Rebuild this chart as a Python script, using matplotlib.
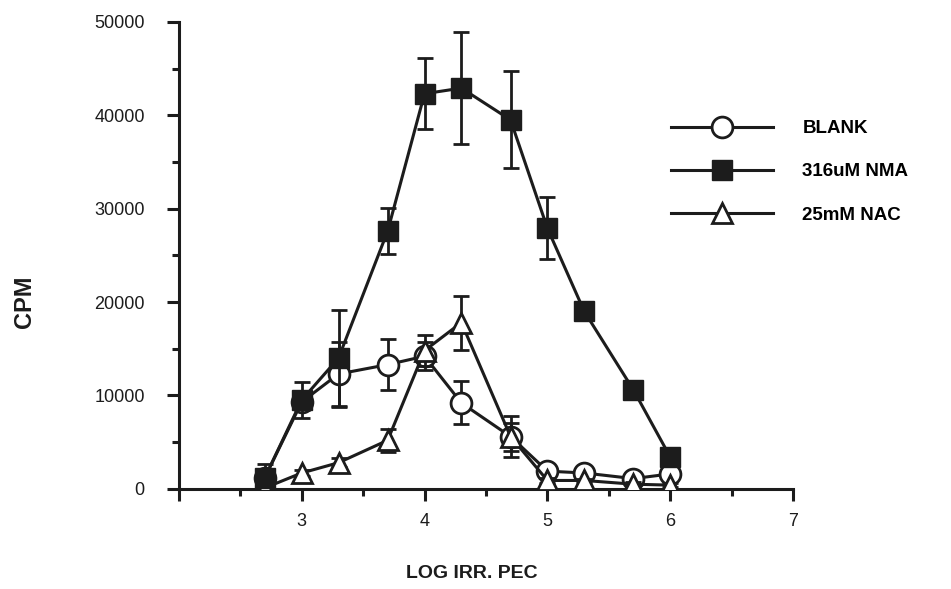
import numpy as np
import matplotlib.pyplot as plt
from matplotlib.lines import Line2D

plt.rcParams['font.family'] = ['Liberation Sans', 'DejaVu Sans']

# log irradiated PEC per well
log_pec = [2.7, 3.0, 3.3, 3.7, 4.0, 4.3, 4.7, 5.0, 5.3, 5.7, 6.0]

blank = [1200, 9300, 12300, 13300, 14200, 9200, 5600, 1900, 1700, 1100, 1600]
blank_err = [800, 900, 3400, 2700, 1500, 2300, 1500, 400, 400, 300, 400]

nma = [1200, 9500, 14000, 27600, 42300, 42900, 39500, 27900, 19000, 10600, 3400]
nma_err = [1500, 1900, 5200, 2500, 3800, 6000, 5200, 3300, 500, 400, 500]

nac = [100, 1700, 2800, 5200, 14800, 17800, 5600, 900, 900, 500, 400]
nac_err = [200, 300, 500, 1200, 1700, 2900, 2200, 300, 200, 200, 200]

ink = '#1c1c1c'

fig = plt.figure(figsize=(9.51, 5.89), dpi=100)
ax = fig.add_axes([0.188, 0.170, 0.646, 0.793])

common = dict(color=ink, lw=2.2, ecolor=ink, elinewidth=2, capsize=6, capthick=2)
ax.errorbar(log_pec, blank, yerr=blank_err, marker='o', ms=15, mfc='white',
            mec=ink, mew=2, zorder=3, **common)
ax.errorbar(log_pec, nac, yerr=nac_err, marker='^', ms=15, mfc='white',
            mec=ink, mew=2, zorder=4, **common)
ax.errorbar(log_pec, nma, yerr=nma_err, marker='s', ms=15, mfc=ink,
            mec=ink, zorder=5, **common)

ax.set_xlim(2, 7)
ax.set_ylim(0, 50000)
ax.set_xticks([2, 3, 4, 5, 6, 7])
ax.set_xticklabels(['', '3', '4', '5', '6', '7'])
ax.set_xticks(np.arange(2.5, 7, 1), minor=True)
ax.set_yticks(np.arange(0, 50001, 10000))
ax.set_yticklabels([str(v) for v in range(0, 50001, 10000)])
ax.set_yticks(np.arange(5000, 50000, 10000), minor=True)

for s in ['top', 'right']:
    ax.spines[s].set_visible(False)
for s in ['left', 'bottom']:
    ax.spines[s].set_linewidth(2.2)
    ax.spines[s].set_color(ink)
ax.tick_params(which='major', length=8.5, width=2.2, color=ink, labelsize=13,
               labelcolor=ink)
ax.tick_params(which='minor', length=5, width=2.2, color=ink)
ax.tick_params(axis='y', pad=16)
ax.tick_params(axis='x', pad=9)

fig.text(24 / 951, 1 - 302 / 589, 'CPM', rotation=90, ha='center', va='center',
         fontsize=17, fontweight='bold', color=ink)
fig.text(472 / 951, 1 - 574 / 589, 'LOG IRR. PEC', ha='center', va='center',
         fontsize=14, fontweight='bold', color=ink)

# legend handles without the error bars
handles = [
    Line2D([], [], color=ink, lw=2.2, marker='o', ms=15, mfc='white', mec=ink, mew=2),
    Line2D([], [], color=ink, lw=2.2, marker='s', ms=15, mfc=ink, mec=ink),
    Line2D([], [], color=ink, lw=2.2, marker='^', ms=15, mfc='white', mec=ink, mew=2),
]
labels = ['BLANK', '316uM NMA', '25mM NAC']
ax.legend(handles, labels,
          loc='upper left', bbox_to_anchor=(671 / 951, 1 - 120 / 589),
          bbox_transform=fig.transFigure, frameon=False,
          borderaxespad=0, borderpad=0,
          handlelength=5.45, handletextpad=1.55, labelspacing=1.4,
          prop={'weight': 'bold', 'size': 13.5})

fig.savefig('out.png', dpi=100)
